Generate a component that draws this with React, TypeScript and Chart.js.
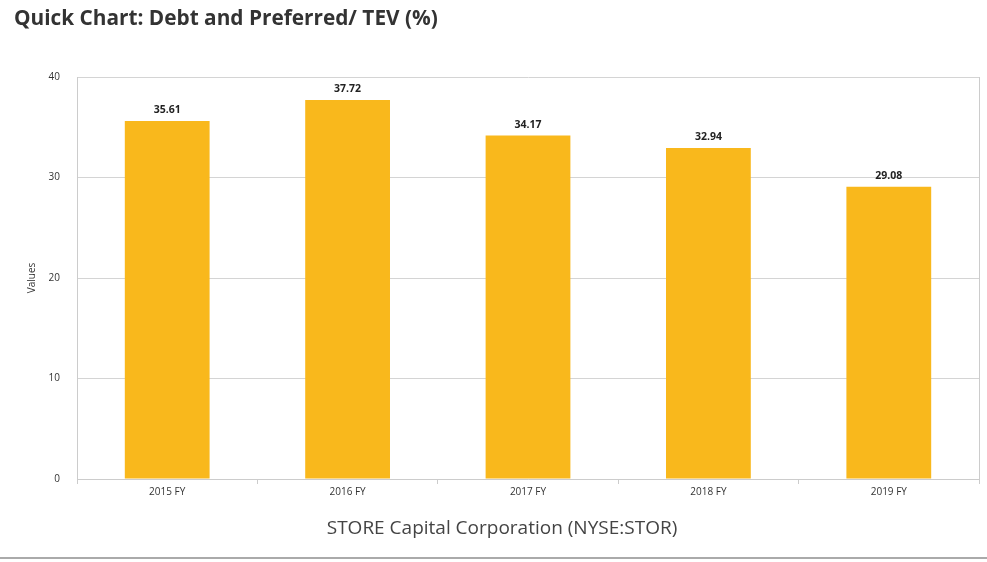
import React, { useEffect, useRef } from "react";
import { Chart, registerables } from "chart.js";

Chart.register(...registerables);

const categories = ["2015 FY", "2016 FY", "2017 FY", "2018 FY", "2019 FY"];
const values = [35.61, 37.72, 34.17, 32.94, 29.08];
const yTicks = [0, 10, 20, 30, 40];
const chartTitle = "Quick Chart: Debt and Preferred/ TEV (%)";
const xTitle = "STORE Capital Corporation (NYSE:STOR)";
const yTitle = "Values";

const FONT = "'Open Sans', 'Noto Sans', sans-serif";

const valueLabels = {
  id: "valueLabels",
  afterDatasetsDraw(chart: any) {
    const ctx = chart.ctx;
    const meta = chart.getDatasetMeta(0);
    ctx.save();
    ctx.font = `bold 10.5px ${FONT}`;
    ctx.fillStyle = "#222";
    ctx.textAlign = "center";
    ctx.textBaseline = "middle";
    meta.data.forEach((bar: any, i: number) => {
      ctx.fillText(values[i].toFixed(2), bar.x, bar.y - 11);
    });
    ctx.restore();
  },
};

export default function App() {
  const ref = useRef<HTMLCanvasElement>(null);
  useEffect(() => {
    if (!ref.current) return;
    const chart = new Chart(ref.current, {
      type: "bar",
      data: {
        labels: categories,
        datasets: [
          {
            data: values,
            backgroundColor: "#F9B81C",
            borderWidth: 0,
            barPercentage: 0.47,
            categoryPercentage: 1,
          },
        ],
      },
      options: {
        animation: false,
        responsive: false,
        layout: { padding: { top: 77, right: 8, left: 0, bottom: 0 } },
        plugins: {
          legend: { display: false },
          tooltip: { enabled: false },
        },
        scales: {
          x: {
            afterFit: (s: any) => {
              s.height = 83;
            },
            grid: {
              offset: true,
              drawOnChartArea: true,
              drawTicks: true,
              tickLength: 5,
              color: (c: any) =>
                c.tick ? (c.index === 0 ? "#cccccc" : "transparent") : "#cccccc",
              tickColor: "#cccccc",
            },
            border: { display: true, color: "#cccccc" },
            ticks: {
              color: "#333",
              padding: 2,
              font: { family: FONT, size: 10 },
              maxRotation: 0,
            },
          },
          y: {
            min: 0,
            max: 40,
            afterFit: (s: any) => {
              s.width = 77;
            },
            afterBuildTicks: (s: any) => {
              s.ticks = yTicks.map((v) => ({ value: v }));
            },
            grid: {
              color: "#d4d4d4",
              drawTicks: false,
            },
            border: { display: true, color: "#cccccc" },
            ticks: {
              color: "#333",
              padding: 17,
              font: { family: FONT, size: 10 },
            },
            title: {
              display: true,
              text: yTitle,
              color: "#333",
              font: { family: FONT, size: 10 },
              padding: { top: 26, bottom: 0 },
            },
          },
        },
      },
      plugins: [valueLabels],
    });
    return () => chart.destroy();
  }, []);

  return (
    <div
      style={{
        position: "fixed",
        left: 0,
        top: 0,
        width: 987,
        height: 562,
        background: "#fff",
      }}
    >
      <canvas
        ref={ref}
        width={987}
        height={562}
        style={{ position: "absolute", left: 0, top: 0, width: 987, height: 562 }}
      />
      <div
        style={{
          position: "absolute",
          left: 14,
          top: 3,
          fontFamily: FONT,
          fontWeight: "bold",
          fontSize: 20.8,
          color: "#333",
          whiteSpace: "nowrap",
        }}
      >
        {chartTitle}
      </div>
      <div
        style={{
          position: "absolute",
          left: 302,
          width: 400,
          top: 514,
          lineHeight: "26px",
          textAlign: "center",
          fontFamily: FONT,
          fontSize: 19,
          color: "#444",
          whiteSpace: "nowrap",
        }}
      >
        {xTitle}
      </div>
      <div
        style={{
          position: "absolute",
          left: 0,
          top: 557,
          width: 987,
          height: 0,
          borderTop: "2px solid #aaaaaa",
        }}
      />
    </div>
  );
}
